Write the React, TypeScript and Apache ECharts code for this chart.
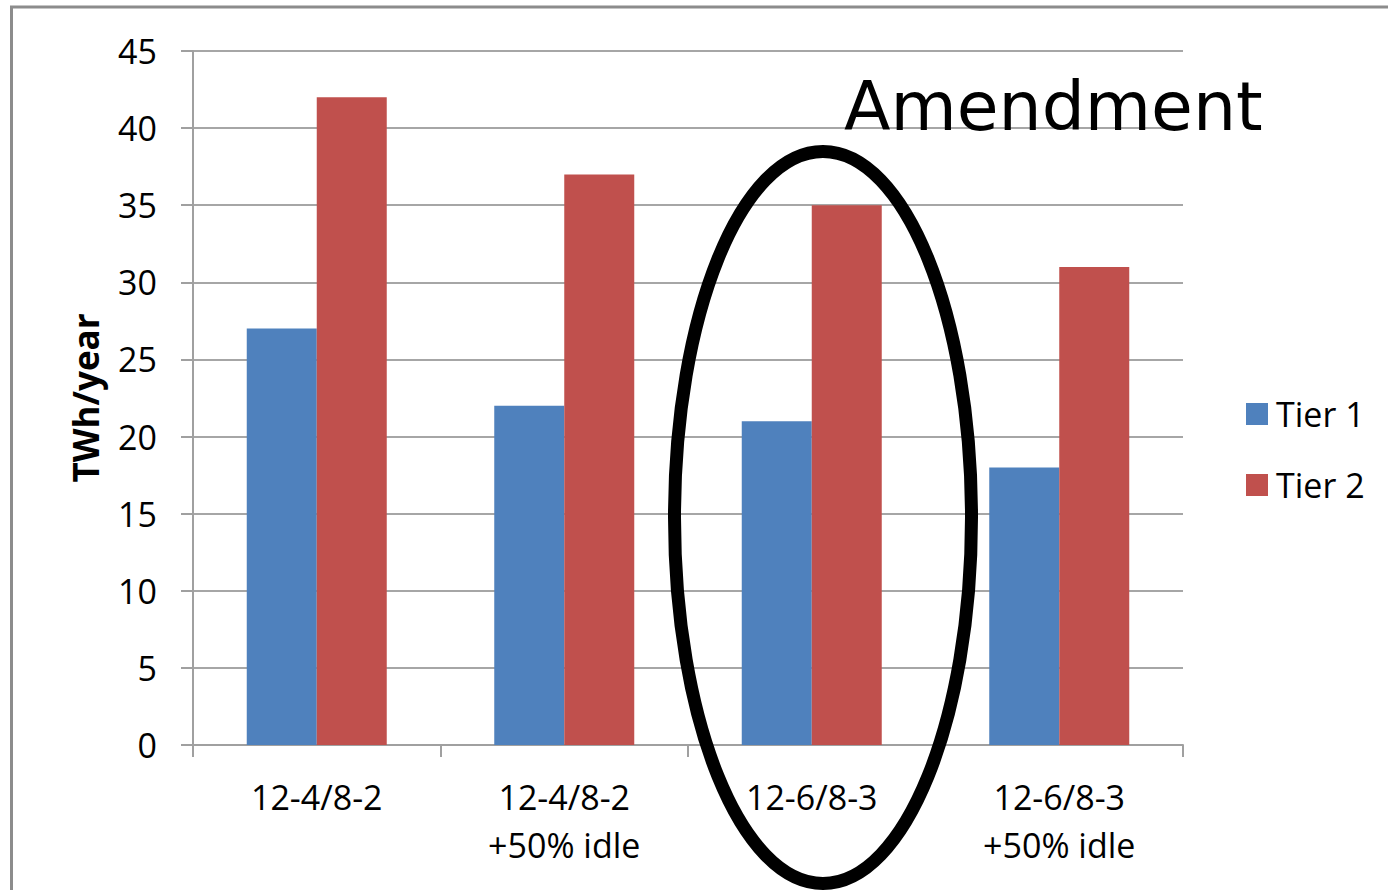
import React, { useEffect, useRef } from "react";
import * as echarts from "echarts";

const categories = ["12-4/8-2", "12-4/8-2\n+50% idle", "12-6/8-3", "12-6/8-3\n+50% idle"];
const tier1 = [27, 22, 21, 18];
const tier2 = [42, 37, 35, 31];
const seriesNames = ["Tier 1", "Tier 2"];
const yAxisTitle = "TWh/year";
const annotation = "Amendment";

export default function App() {
  const ref = useRef<HTMLDivElement>(null);
  useEffect(() => {
    if (!ref.current) return;
    const chart = echarts.init(ref.current, null, { renderer: "svg" });
    const font = "'Open Sans', sans-serif";
    chart.setOption({
      animation: false,
      backgroundColor: "#ffffff",
      grid: { left: 193, right: 205, top: 51, bottom: 145, containLabel: false },
      legend: {
        orient: "vertical",
        left: 1246,
        top: 397,
        padding: 0,
        itemWidth: 22,
        itemHeight: 22,
        itemGap: 37,
        icon: "rect",
        textStyle: { fontFamily: font, fontSize: 34, color: "#000", padding: [0, 0, 0, 3] },
        data: seriesNames,
      },
      xAxis: {
        type: "category",
        data: categories,
        axisLine: { lineStyle: { color: "#a0a0a0", width: 2 } },
        axisTick: { show: true, length: 12, lineStyle: { color: "#a0a0a0", width: 2 } },
        axisLabel: {
          fontFamily: font,
          fontSize: 34,
          color: "#000",
          lineHeight: 48,
          margin: 28,
          interval: 0,
        },
      },
      yAxis: {
        type: "value",
        min: 0,
        max: 45,
        interval: 5,
        name: yAxisTitle,
        nameLocation: "middle",
        nameRotate: 90,
        nameGap: 90,
        nameTextStyle: { fontFamily: font, fontSize: 35, fontWeight: "bold", color: "#000" },
        axisLine: { show: true, lineStyle: { color: "#a0a0a0", width: 2 } },
        axisTick: { show: true, inside: false, length: 12, lineStyle: { color: "#a0a0a0", width: 2 } },
        axisLabel: { fontFamily: font, fontSize: 34, color: "#000", margin: 36 },
        splitLine: { lineStyle: { color: "#a6a6a6", width: 2 } },
      },
      series: [
        {
          name: seriesNames[0],
          type: "bar",
          data: tier1,
          barWidth: 70,
          barGap: "0%",
          itemStyle: { color: "#4F81BD" },
        },
        {
          name: seriesNames[1],
          type: "bar",
          data: tier2,
          barWidth: 70,
          barGap: "0%",
          itemStyle: { color: "#C0504D" },
        },
      ],
      graphic: [
        {
          type: "rect",
          shape: { x: 11.5, y: 7, width: 3000, height: 3000 },
          style: { fill: "none", stroke: "#8c8c8c", lineWidth: 3 },
          z: 100,
        },
        {
          type: "ellipse",
          shape: { cx: 823, cy: 517.5, rx: 148.5, ry: 366 },
          style: { fill: "none", stroke: "#000", lineWidth: 13 },
          z: 100,
        },
        {
          type: "text",
          x: 844,
          y: 140,
          style: {
            text: annotation,
            fontFamily: "'DejaVu Sans', sans-serif",
            fontSize: 68,
            fill: "#000",
            verticalAlign: "bottom",
          },
          z: 100,
        },
      ],
    });
    return () => chart.dispose();
  }, []);
  return (
    <div
      ref={ref}
      style={{ position: "fixed", left: 0, top: 0, width: 1388, height: 890 }}
    />
  );
}
